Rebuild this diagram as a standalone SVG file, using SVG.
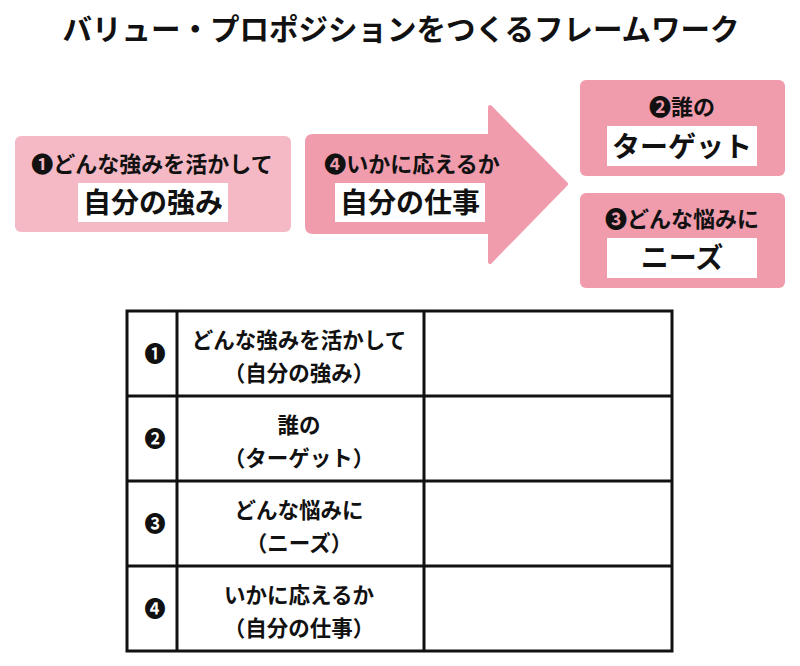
<svg xmlns="http://www.w3.org/2000/svg" width="800" height="666" viewBox="0 0 800 666">
<style>
text{font-family:"Noto Sans CJK JP","Noto Sans CJK SC",sans-serif;fill:#111;font-weight:700;text-anchor:middle}
.t{font-size:29.5px}
.l{font-size:22px}
.w{font-size:28px}
.c{font-size:21.5px}
.n{font-size:21px}
.light{fill:#f4b9c5}
.dark{fill:#f09cad}
.wb{fill:#fff}
.grid{stroke:#111;stroke-width:3;fill:none}
</style>
<rect width="800" height="666" fill="#fff"/>
<text class="t" x="401" y="40">バリュー・プロポジションをつくるフレームワーク</text>
<g id="node1">
<rect class="light" x="15" y="136" width="276" height="96" rx="6"/>
<text class="l" x="152" y="172">❶どんな強みを活かして</text>
<rect class="wb" x="78" y="183" width="150" height="39"/>
<text class="w" x="153" y="213">自分の強み</text>
</g>
<g id="node4">
<path class="dark" d="M313,136 H490 V107 L566,184 L490,262 V232 H313 Q307,232 307,226 V142 Q307,136 313,136 Z" stroke="#f09cad" stroke-width="4" stroke-linejoin="round"/>
<text class="l" x="412" y="172">❹いかに応えるか</text>
<rect class="wb" x="335" y="183" width="150" height="39"/>
<text class="w" x="410" y="213">自分の仕事</text>
</g>
<g id="node2">
<rect class="dark" x="580" y="80" width="205" height="96" rx="6"/>
<text class="l" x="682" y="115">❷誰の</text>
<rect class="wb" x="607" y="126" width="150" height="40"/>
<text class="w" x="682" y="157">ターゲット</text>
</g>
<g id="node3">
<rect class="dark" x="580" y="193" width="205" height="95" rx="6"/>
<text class="l" x="682" y="227">❸どんな悩みに</text>
<rect class="wb" x="607" y="238" width="150" height="40"/>
<text class="w" x="682" y="268">ニーズ</text>
</g>
<g id="table">
<rect class="grid" x="127" y="311" width="545" height="340"/>
<path class="grid" d="M177,311 V651 M424,311 V651 M127,396 H672 M127,481 H672 M127,566 H672"/>
<text class="n" x="155" y="361">❶</text>
<text class="c" x="299" y="348">どんな強みを活かして</text>
<text class="c" x="299" y="381">（自分の強み）</text>
<text class="n" x="155" y="446">❷</text>
<text class="c" x="299" y="433">誰の</text>
<text class="c" x="299" y="466">（ターゲット）</text>
<text class="n" x="155" y="531">❸</text>
<text class="c" x="299" y="518">どんな悩みに</text>
<text class="c" x="299" y="551">（ニーズ）</text>
<text class="n" x="155" y="616">❹</text>
<text class="c" x="299" y="603">いかに応えるか</text>
<text class="c" x="299" y="636">（自分の仕事）</text>
</g>
</svg>
